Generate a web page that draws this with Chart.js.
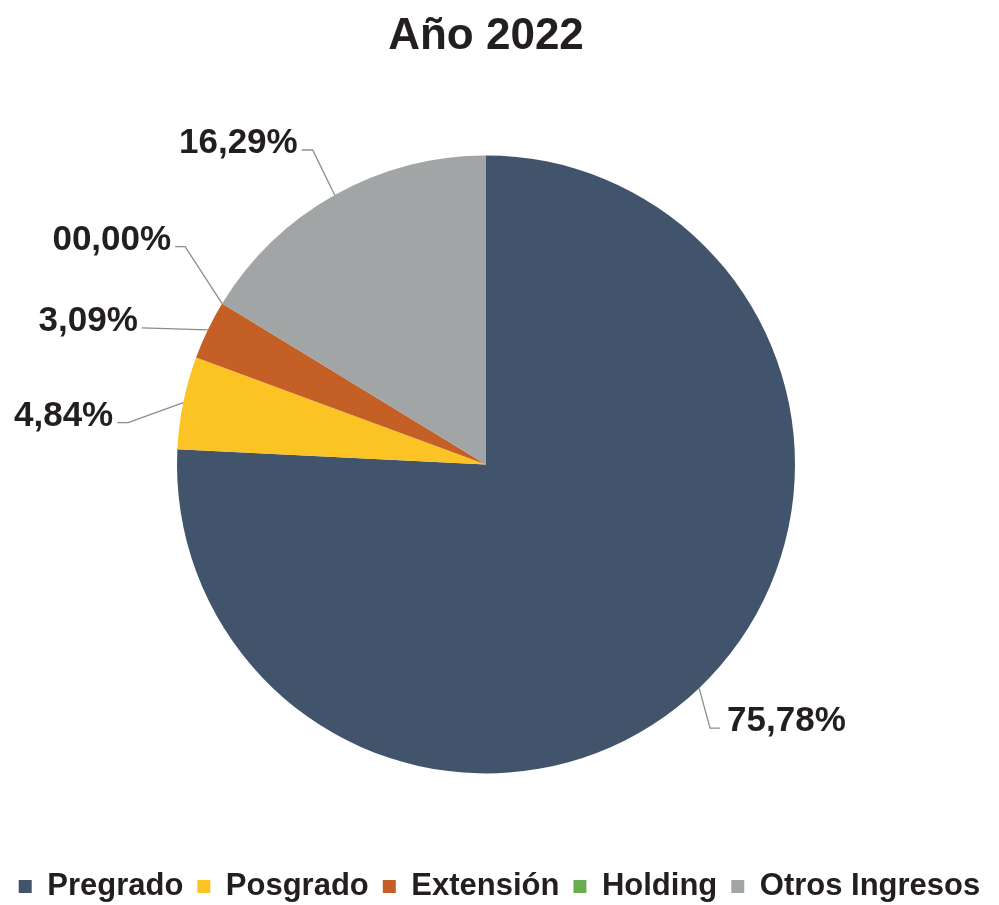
<!DOCTYPE html>
<html>
<head>
<meta charset="utf-8">
<script src="https://cdn.jsdelivr.net/npm/chart.js@4"></script>
<style>
  html, body { margin: 0; padding: 0; background: #fff; overflow: hidden; }
  #wrap { width: 999px; height: 912px; position: relative; }
</style>
</head>
<body>
<div id="wrap"><canvas id="chart"></canvas></div>
<script>
const chartTitle = 'Año 2022';
const categories = ['Pregrado', 'Posgrado', 'Extensión', 'Holding', 'Otros Ingresos'];
const shares = [75.78, 4.84, 3.09, 0, 16.29];
const sliceColors = ['#41546c', '#fcc324', '#c46026', '#6aad50', '#a2a5a6'];

const TEXT = '#231f20';
const FONT = '"Liberation Sans", Arial, sans-serif';

function fmtPct(v) {
  const s = v === 0 ? '00,00' : v.toFixed(2).replace('.', ',');
  return s + '%';
}

// leader line layout per slice: elbow offset from the slice edge, then a short hook
const leader = [
  { dx: 11, dy: 40, hook: 10 },
  { dx: -55, dy: 20, hook: -11 },
  { dx: -66, dy: -2, hook: 0 },
  { dx: -37, dy: -57, hook: -10 },
  { dx: -22, dy: -45, hook: -11 }
];

const shiftPie = {
  id: 'shiftPie',
  afterLayout(chart) {
    const a = chart.chartArea;
    a.right -= 27;
    a.width = a.right - a.left;
    if (chart.titleBlock) chart.titleBlock.right -= 27;
  }
};

const pieLabels = {
  id: 'pieLabels',
  afterDatasetsDraw(chart) {
    const ctx = chart.ctx;
    const meta = chart.getDatasetMeta(0);
    ctx.save();
    ctx.font = 'bold 35px ' + FONT;
    ctx.fillStyle = TEXT;
    ctx.textBaseline = 'alphabetic';
    meta.data.forEach((arc, i) => {
      const p = arc.getProps(['x', 'y', 'startAngle', 'endAngle', 'outerRadius'], true);
      const mid = (p.startAngle + p.endAngle) / 2;
      const ax = p.x + Math.cos(mid) * p.outerRadius;
      const ay = p.y + Math.sin(mid) * p.outerRadius;
      const L = leader[i];
      const ex = ax + L.dx, ey = ay + L.dy;
      const hx = ex + L.hook;
      ctx.strokeStyle = '#8c8c8c';
      ctx.lineWidth = 1.3;
      ctx.beginPath();
      ctx.moveTo(ax, ay);
      ctx.lineTo(ex, ey);
      ctx.lineTo(hx, ey);
      ctx.stroke();
      const right = L.dx > 0;
      ctx.textAlign = right ? 'left' : 'right';
      ctx.fillText(fmtPct(shares[i]), hx + (right ? 7 : -4), ey + 3);
    });
    ctx.restore();
  }
};

new Chart(document.getElementById('chart'), {
  type: 'pie',
  data: {
    labels: categories,
    datasets: [{
      data: shares,
      backgroundColor: sliceColors,
      borderWidth: 0
    }]
  },
  options: {
    responsive: true,
    maintainAspectRatio: false,
    animation: false,
    events: [],
    radius: 309,
    layout: { padding: 0 },
    plugins: {
      title: {
        display: true,
        text: chartTitle,
        color: TEXT,
        font: { family: FONT, size: 44, weight: 'bold' },
        padding: { top: 10, bottom: 9 }
      },
      legend: {
        position: 'bottom',
        labels: {
          color: TEXT,
          font: { family: FONT, size: 31, weight: 'bold' },
          boxWidth: 13,
          boxHeight: 13,
          padding: 14
        }
      },
      tooltip: { enabled: false }
    }
  },
  plugins: [shiftPie, pieLabels]
});
</script>
</body>
</html>
